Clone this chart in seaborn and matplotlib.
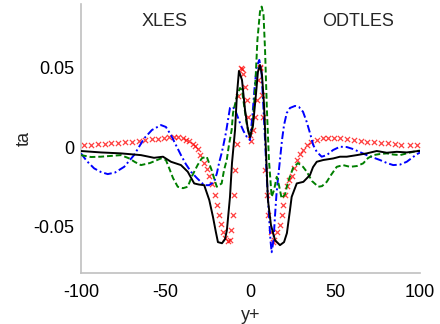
import matplotlib
matplotlib.use("Agg")
import matplotlib.pyplot as plt
import seaborn as sns

# ---- data ----
black_x = [-100, -88.2, -76.4, -64.6, -56.9, -51.6, -46.9, -41.0, -37.0, -33.2, -30.4, -27.3, -24.3,
           -22.1, -20.4, -19.2, -16.8, -15.0, -13.9, -12.1, -10.9, -9.1, -8.0, -6.8, -5.0, -3.2, -1.5,
           -0.3, 1.5, 3.2, 4.4, 5.6, 6.8, 8.0, 9.1, 10.3, 12.1, 14.5, 17.4, 19.8, 21.5, 23.3, 24.3,
           27.3, 31.2, 35.1, 36.9, 39.1, 42.9, 48.8, 52.8, 56.8, 62.7, 68.6, 74.5, 80.4, 86.3, 92.2,
           99.0, 100]
black_y = [-0.0025, -0.0034, -0.0040, -0.0051, -0.0068, -0.0061, -0.0093, -0.0114, -0.0156, -0.0230,
           -0.0237, -0.0241, -0.0335, -0.0443, -0.0538, -0.0601, -0.0608, -0.0582, -0.0525, -0.0317,
           -0.0101, 0.0108, 0.0329, 0.0481, 0.0424, 0.0234, 0.0108, 0.0063, 0.0139, 0.0329, 0.0475,
           0.0519, 0.0456, 0.0266, -0.0019, -0.0335, -0.0494, -0.0589, -0.0620, -0.0601, -0.0544,
           -0.0399, -0.0315, -0.0230, -0.0220, -0.0177, -0.0127, -0.0093, -0.0082, -0.0072, -0.0061,
           -0.0061, -0.0051, -0.0040, -0.0025, -0.0036, -0.0030, -0.0034, -0.0025, -0.0025]

green_x = [-100, -94.1, -88.2, -76.4, -71.5, -68.1, -64.6, -59.3, -52.8, -49.9, -47.9, -45.7, -42.9,
           -39.8, -37.0, -34.5, -31.2, -28.6, -25.8, -22.9, -19.9, -17.0, -15.6, -14.0, -12.7, -11.1,
           -10.3, -8.1, -6.2, -5.0, -3.8, -2.1, -0.3, 1.2, 2.7, 4.1, 5.6, 6.6, 7.7, 8.6, 9.7, 10.9,
           12.5, 13.9, 15.5, 16.8, 18.4, 20.4, 22.1, 25.1, 28.0, 31.0, 33.2, 36.3, 40.0, 42.2, 45.0,
           47.5, 50.9, 54.6, 58.7, 62.8, 66.5, 69.3, 72.4, 76.4, 80.4, 84.1, 88.2, 92.9, 98.1, 100]
green_y = [-0.0051, -0.0063, -0.0061, -0.0051, -0.0072, -0.0095, -0.0114, -0.0101, -0.0072, -0.0082,
           -0.0135, -0.0196, -0.0251, -0.0260, -0.0251, -0.0184, -0.0114, -0.0070, -0.0061, -0.0146,
           -0.0251, -0.0230, -0.0146, -0.0082, 0.0013, 0.0108, 0.0215, 0.0318, 0.0373, 0.0361, 0.0266,
           0.0139, 0.0065, 0.0120, 0.0361, 0.0677, 0.0855, 0.0888, 0.0836, 0.0614, 0.0234, -0.0082,
           -0.0315, -0.0272, -0.0188, -0.0241, -0.0325, -0.0298, -0.0222, -0.0133, -0.0101, -0.0125,
           -0.0156, -0.0215, -0.0251, -0.0247, -0.0220, -0.0177, -0.0125, -0.0114, -0.0125, -0.0120,
           -0.0103, -0.0070, -0.0051, -0.0044, -0.0040, -0.0047, -0.0051, -0.0038, -0.0025, -0.0022]

blue_x = [-100, -96.5, -92.2, -88.2, -84.2, -79.9, -74.5, -68.7, -62.7, -58.1, -52.8, -49.9, -46.9,
          -44.0, -41.0, -38.1, -35.1, -31.6, -27.3, -24.5, -21.4, -19.8, -18.4, -17.0, -16.2, -14.5,
          -12.1, -10.3, -8.6, -6.2, -4.1, -2.2, -0.3, 1.2, 2.4, 3.7, 5.2, 6.5, 7.4, 8.6, 9.7, 10.9,
          11.8, 12.5, 13.6, 14.5, 15.3, 16.2, 17.4, 18.6, 19.8, 21.4, 23.3, 26.3, 28.6, 31.0, 33.2,
          35.1, 37.0, 39.1, 42.0, 45.0, 48.7, 52.8, 56.8, 60.6, 64.6, 68.6, 72.3, 76.4, 80.5, 84.2,
          88.2, 92.2, 95.9, 99.0, 100]
blue_y = [-0.0040, -0.0089, -0.0135, -0.0158, -0.0171, -0.0161, -0.0125, -0.0051, 0.0055, 0.0108,
          0.0139, 0.0127, 0.0076, 0.0013, -0.0051, -0.0108, -0.0156, -0.0196, -0.0241, -0.0241,
          -0.0220, -0.0165, -0.0095, -0.0038, 0.0000, 0.0089, 0.0247, 0.0253, 0.0222, 0.0152, 0.0101,
          0.0065, 0.0044, 0.0203, 0.0373, 0.0508, 0.0551, 0.0475, 0.0298, 0.0044, -0.0209, -0.0430,
          -0.0589, -0.0665, -0.0589, -0.0430, -0.0304, -0.0203, -0.0082, 0.0044, 0.0139, 0.0215,
          0.0247, 0.0260, 0.0253, 0.0223, 0.0158, 0.0089, 0.0013, -0.0030, -0.0061, -0.0051, -0.0019,
          0.0002, 0.0000, -0.0013, -0.0032, -0.0051, -0.0066, -0.0082, -0.0101, -0.0114, -0.0111,
          -0.0093, -0.0063, -0.0040, -0.0035]

red_x = [-98, -94, -90, -86, -82, -78, -74, -70, -66, -62, -58, -54.5, -51, -48, -45, -42.5, -40, -38,
         -36, -34, -32.5, -31, -29.5, -27.5, -25.8, -24.2, -22.8, -21.2, -19.8, -18.6, -17.6, -16.4,
         -14.8, -13.2, -12.3, -11.3, -10.6, -9.8, -8.9, -8.2, -7.4, -5.6, -5.0, -4.2, -3.2, -2.3, -1.4,
         -0.5, 0.5, 1.5, 2.6, 3.7, 4.6, 5.4, 5.9, 6.6, 7.5, 8.6, 9.6, 10.5, 11.9, 13.0, 13.6, 15.5,
         17.4, 18.4, 19.4, 20.4, 21.5, 22.8, 24.3, 25.8, 27.3, 29, 31, 33.5, 36, 39, 42.5, 46, 49.5,
         53, 57, 61, 65, 69, 73, 77, 81, 85, 89, 94, 98]
red_y = [0.0013, 0.0015, 0.0017, 0.0020, 0.0023, 0.0026, 0.0030, 0.0034, 0.0038, 0.0043, 0.0048,
         0.0053, 0.0058, 0.0062, 0.0064, 0.0062, 0.0055, 0.0046, 0.0036, 0.0022, 0.0008, -0.0015,
         -0.0050, -0.0099, -0.0141, -0.0180, -0.0235, -0.0300, -0.0365, -0.0430, -0.0489, -0.0536,
         -0.0575, -0.0595, -0.0585, -0.0525, -0.0430, -0.0300, -0.0146, 0.0020, 0.0320, 0.0500,
         0.0495, 0.0460, 0.0380, 0.0295, 0.0190, 0.0075, 0.0040, 0.0108, 0.0190, 0.0298, 0.0424,
         0.0505, 0.0500, 0.0330, 0.0190, -0.0146, -0.0304, -0.0430, -0.0536, -0.0600, -0.0590,
         -0.0536, -0.0494, -0.0430, -0.0367, -0.0304, -0.0245, -0.0210, -0.0180, -0.0135, -0.0085,
         -0.0045, -0.0019, 0.0010, 0.0034, 0.0047, 0.0055, 0.0059, 0.0058, 0.0055, 0.0051, 0.0046,
         0.0040, 0.0035, 0.0030, 0.0027, 0.0023, 0.0019, 0.0016, 0.0013, 0.0011]

x_ticks = [-100, -50, 0, 50, 100]
x_tick_labels = ["-100", "-50", "0", "50", "100"]
y_ticks = [-0.05, 0, 0.05]
y_tick_labels = ["-0.05", "0", "0.05"]
annotations = ["XLES", "ODTLES"]

# ---- plot ----
sns.set_style("white")
plt.rcParams["font.family"] = ["Liberation Sans", "DejaVu Sans"]
plt.rcParams["axes.unicode_minus"] = False

fig = plt.figure(figsize=(4.4, 3.24), dpi=100)
ax = fig.add_axes([0.184, 0.157, 0.7705, 0.831])

sns.scatterplot(x=red_x, y=red_y, marker="x", s=14, color="red", linewidth=0.9, alpha=0.75, ax=ax, zorder=2)
sns.lineplot(x=blue_x, y=blue_y, sort=False, color="blue", linewidth=1.4, ax=ax, zorder=3)
ax.lines[-1].set_linestyle((0, (4, 1.5, 1, 1.5)))
sns.lineplot(x=green_x, y=green_y, sort=False, color="#007f00", linewidth=1.4, ax=ax, zorder=4)
ax.lines[-1].set_linestyle((0, (3, 1.5)))
sns.lineplot(x=black_x, y=black_y, sort=False, color="black", linewidth=1.4, ax=ax, zorder=5)

ax.set_xlim(-100, 100)
ax.set_ylim(-0.0797, 0.0905)
ax.set_xticks(x_ticks)
ax.set_xticklabels(x_tick_labels)
ax.set_yticks(y_ticks)
ax.set_yticklabels(y_tick_labels)
ax.tick_params(direction="in", length=3, width=0.8, color="#aaaaaa", labelsize=13, pad=5,
               labelcolor="black")
ax.tick_params(axis="x", pad=8)
for side in ["top", "right"]:
    ax.spines[side].set_visible(False)
for side in ["left", "bottom"]:
    ax.spines[side].set_color("#c0c0c0")
    ax.spines[side].set_linewidth(1.2)

ax.set_xlabel("y+", fontsize=13, labelpad=4)
ax.set_ylabel("ta", fontsize=13, labelpad=0)
ax.text(-50.4, 0.0795, annotations[0], fontsize=13, ha="center", va="center")
ax.text(63.4, 0.0795, annotations[1], fontsize=13, ha="center", va="center")

fig.savefig("out.png", dpi=100)
